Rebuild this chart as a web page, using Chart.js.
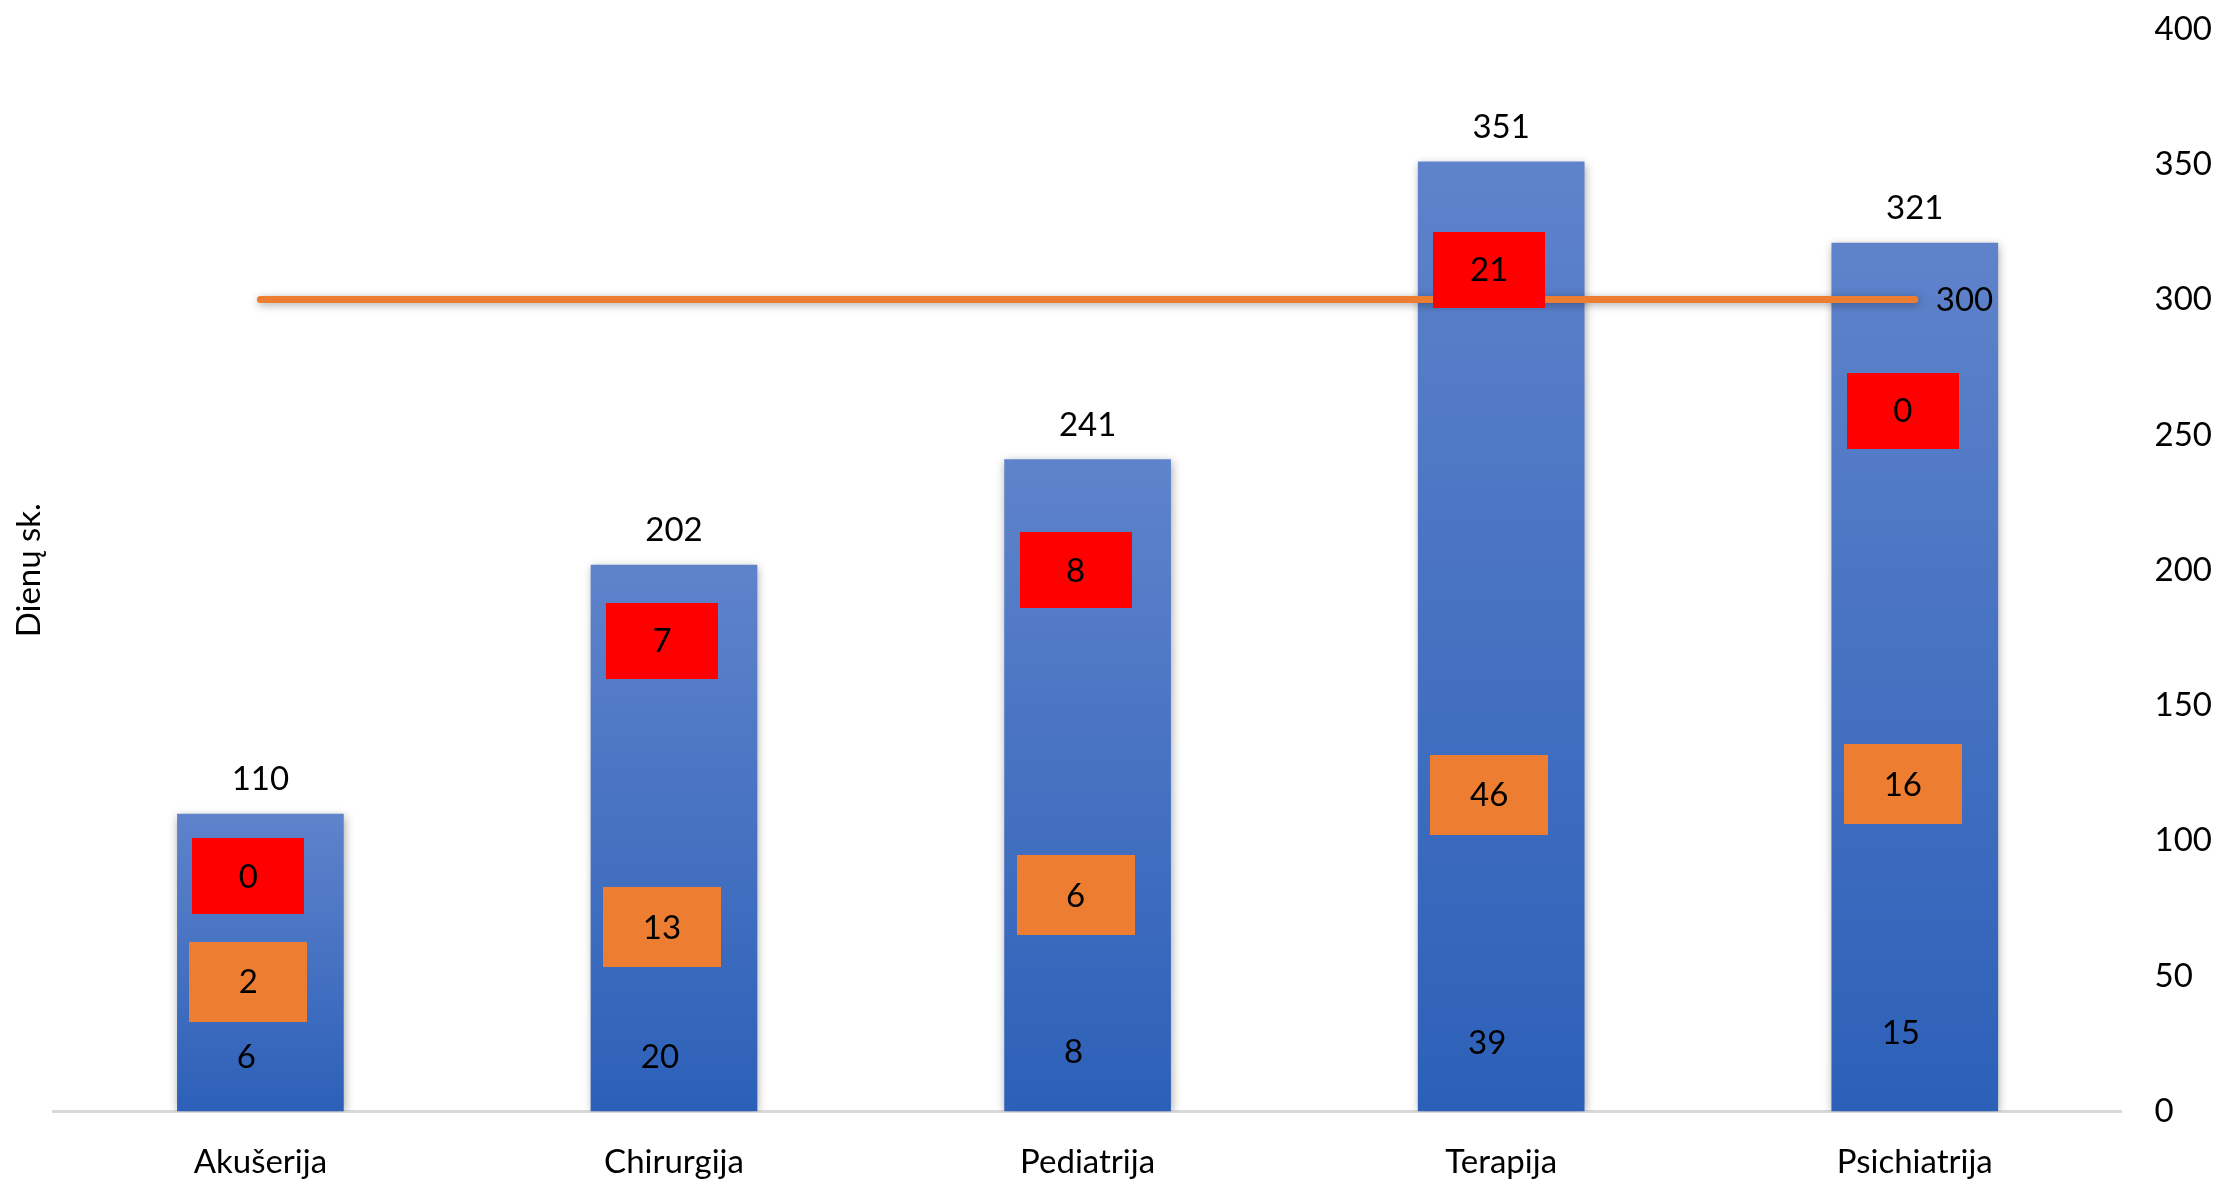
<!DOCTYPE html>
<html>
<head>
<meta charset="utf-8">
<script src="https://cdn.jsdelivr.net/npm/chart.js@4.4.0/dist/chart.umd.min.js"></script>
<style>
html, body { margin: 0; padding: 0; background: #fff; overflow: hidden; }
#wrap { width: 2223px; height: 1182px; }
</style>
</head>
<body>
<div id="wrap"><canvas id="days-chart"></canvas></div>
<script>
const departments = ['Akušerija', 'Chirurgija', 'Pediatrija', 'Terapija', 'Psichiatrija'];
const totalDays = [110, 202, 241, 351, 321];
const normDays = [300, 300, 300, 300, 300];

// the small numbers shown inside each bar
const blueNotes = [6, 20, 8, 39, 15];
const orangeNotes = [2, 13, 6, 46, 16];
const redNotes = [0, 7, 8, 21, 0];

// axis value at which each note sits
const blueNoteLevel = [20, 20, 22, 25, 29];
const orangeNoteLevel = [48, 68, 80, 117, 121];
const redNoteLevel = [87, 174, 200, 311, 259];

const FONT = 'Lato';
const ctx = document.getElementById('days-chart').getContext('2d');

function barGradient(context) {
	const chart = context.chart;
	if (!chart.chartArea || context.type !== 'data') return '#4472C4';
	const y = chart.scales.y;
	const top = y.getPixelForValue(context.raw);
	const bottom = y.getPixelForValue(0);
	const g = chart.ctx.createLinearGradient(0, top, 0, bottom);
	g.addColorStop(0, '#5F83CB');
	g.addColorStop(1, '#2C60B8');
	return g;
}

function drawNoteBox(c, cx, cy, w, h, color, text) {
	c.fillStyle = color;
	c.fillRect(Math.round(cx - w / 2), Math.round(cy - h / 2), w, h);
	c.fillStyle = '#000';
	c.fillText(text, cx, cy + 1);
}

const notesPlugin = {
	id: 'notes',
	beforeDatasetDraw(chart) {
		const c = chart.ctx;
		c.save();
		c.shadowColor = 'rgba(0,0,0,0.35)';
		c.shadowBlur = 9;
		c.shadowOffsetX = 1;
		c.shadowOffsetY = 2;
	},
	afterDatasetDraw(chart) {
		chart.ctx.restore();
	},
	afterDatasetsDraw(chart) {
		const c = chart.ctx;
		const y = chart.scales.y;
		const bars = chart.getDatasetMeta(1).data;
		c.save();
		c.font = '33px ' + FONT;
		c.textAlign = 'center';
		c.textBaseline = 'middle';
		bars.forEach((bar, i) => {
			const cx = bar.x;
			c.fillStyle = '#000';
			c.fillText(totalDays[i], cx, bar.y - 34);
			drawNoteBox(c, cx - 12, y.getPixelForValue(orangeNoteLevel[i]), 118, 80, '#ED7D31', orangeNotes[i]);
			drawNoteBox(c, cx - 12, y.getPixelForValue(redNoteLevel[i]), 112, 76, '#FF0000', redNotes[i]);
			c.fillText(blueNotes[i], cx - 14, y.getPixelForValue(blueNoteLevel[i]));
		});
		const points = chart.getDatasetMeta(0).data;
		const last = points[points.length - 1];
		c.textAlign = 'left';
		c.fillText(normDays[normDays.length - 1], last.x + 21, last.y + 1);
		c.restore();
	}
};

const font = { family: FONT, size: 33 };

new Chart(ctx, {
	data: {
		labels: departments,
		datasets: [{
			type: 'line',
			data: normDays,
			borderColor: '#ED7D31',
			borderWidth: 7,
			borderCapStyle: 'round',
			pointRadius: 0,
			yAxisID: 'y',
		}, {
			type: 'bar',
			data: totalDays,
			backgroundColor: barGradient,
			borderWidth: 0,
			barPercentage: 0.403,
			categoryPercentage: 1,
			yAxisID: 'y',
		}],
	},
	options: {
		responsive: true,
		maintainAspectRatio: false,
		animation: false,
		// tick padding gets counted twice in the axis size, so pull the edges back in
		layout: { padding: { left: 10, right: -22, top: 0, bottom: -31 } },
		plugins: {
			legend: { display: false },
			tooltip: { enabled: false },
		},
		scales: {
			x: {
				grid: { display: false, drawTicks: false },
				border: { display: true, color: '#D9D9D9', width: 3 },
				ticks: { font: font, color: '#000', padding: 31 },
			},
			y: {
				position: 'right',
				min: 0,
				max: 400,
				grid: { display: false, drawTicks: false },
				border: { display: false },
				ticks: { stepSize: 50, font: font, color: '#000', padding: 33, crossAlign: 'near' },
				afterFit(scale) {
					scale.paddingTop = 29;
				},
			},
			yTitle: {
				type: 'linear',
				position: 'left',
				grid: { display: false, drawTicks: false },
				border: { display: false },
				ticks: { display: false },
				title: { display: true, text: 'Dienų sk.', font: font, color: '#000', padding: { top: 0, bottom: 4 } },
			},
		},
	},
	plugins: [notesPlugin],
});
</script>
</body>
</html>
